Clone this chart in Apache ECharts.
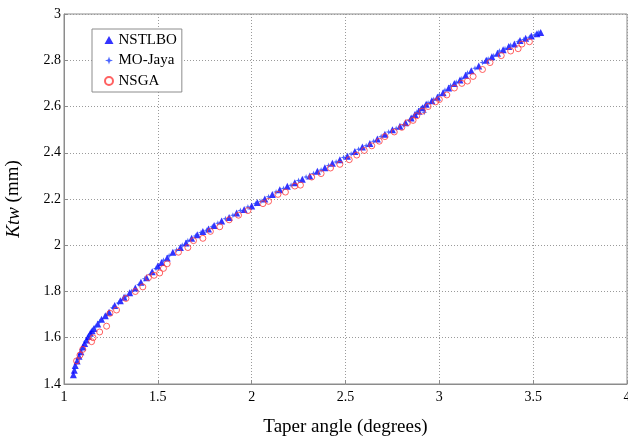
<!DOCTYPE html>
<html>
<head>
<meta charset="utf-8">
<script src="https://cdn.jsdelivr.net/npm/echarts@6/dist/echarts.min.js"></script>
<style>
html,body{margin:0;padding:0;background:#fff;}
#chart{width:628px;height:440px;}
</style>
</head>
<body>
<div id="chart"></div>
<script>
// Data
var xTicks = [1, 1.5, 2, 2.5, 3, 3.5, 4];
var yTicks = [1.4, 1.6, 1.8, 2, 2.2, 2.4, 2.6, 2.8, 3];
var seriesNames = ['NSTLBO', 'MO-Jaya', 'NSGA'];

var nstlbo = [[1.05,1.44],[1.055,1.46],[1.06,1.48],[1.07,1.50],[1.08,1.52],[1.09,1.54],[1.10,1.56],[1.11,1.575],[1.12,1.59],[1.13,1.605],[1.14,1.62],[1.15,1.63],[1.16,1.64],[1.18,1.66],[1.20,1.68],[1.22,1.695],[1.24,1.71],[1.27,1.74],[1.30,1.76],[1.32,1.775],[1.35,1.795],[1.38,1.815],[1.41,1.84],[1.44,1.86],[1.47,1.885],[1.50,1.91],[1.52,1.925],[1.55,1.945],[1.58,1.97],[1.62,1.99],[1.65,2.01],[1.68,2.03],[1.71,2.045],[1.74,2.06],[1.77,2.07],[1.80,2.085],[1.84,2.105],[1.88,2.12],[1.92,2.14],[1.96,2.155],[2.00,2.17],[2.03,2.185],[2.07,2.20],[2.11,2.22],[2.15,2.24],[2.19,2.255],[2.23,2.27],[2.27,2.285],[2.31,2.30],[2.35,2.32],[2.39,2.335],[2.43,2.355],[2.47,2.37],[2.51,2.385],[2.55,2.405],[2.59,2.425],[2.63,2.44],[2.67,2.46],[2.71,2.48],[2.75,2.50],[2.79,2.515],[2.82,2.53],[2.85,2.55],[2.87,2.565],[2.89,2.58],[2.91,2.595],[2.93,2.61],[2.96,2.625],[2.99,2.64],[3.02,2.66],[3.05,2.68],[3.08,2.70],[3.11,2.715],[3.14,2.735],[3.17,2.755],[3.21,2.775],[3.25,2.80],[3.28,2.815],[3.31,2.83],[3.34,2.845],[3.37,2.86],[3.40,2.87],[3.43,2.885],[3.46,2.895],[3.49,2.905],[3.52,2.915],[3.54,2.92]];

var moJaya = [[1.06,1.47],[1.075,1.51],[1.095,1.55],[1.115,1.585],[1.135,1.61],[1.155,1.635],[1.17,1.65],[1.19,1.67],[1.23,1.70],[1.26,1.73],[1.29,1.75],[1.33,1.78],[1.36,1.80],[1.40,1.83],[1.43,1.855],[1.46,1.875],[1.49,1.90],[1.53,1.935],[1.56,1.955],[1.60,1.98],[1.63,2.00],[1.66,2.02],[1.70,2.04],[1.73,2.055],[1.76,2.065],[1.79,2.08],[1.82,2.095],[1.86,2.115],[1.90,2.13],[1.94,2.15],[1.98,2.165],[2.02,2.18],[2.05,2.19],[2.09,2.21],[2.13,2.23],[2.17,2.245],[2.21,2.26],[2.25,2.28],[2.29,2.295],[2.33,2.31],[2.37,2.325],[2.41,2.345],[2.45,2.36],[2.49,2.38],[2.53,2.395],[2.57,2.415],[2.61,2.43],[2.65,2.45],[2.69,2.47],[2.73,2.49],[2.77,2.505],[2.81,2.52],[2.84,2.54],[2.86,2.555],[2.88,2.575],[2.90,2.59],[2.92,2.575],[2.92,2.60],[2.94,2.615],[2.97,2.63],[3.00,2.65],[3.03,2.67],[3.06,2.69],[3.09,2.705],[3.12,2.72],[3.15,2.745],[3.19,2.765],[3.23,2.79],[3.26,2.805],[3.29,2.82],[3.32,2.84],[3.35,2.85],[3.38,2.865],[3.42,2.88],[3.45,2.89],[3.48,2.90],[3.51,2.91],[3.53,2.92]];

var nsga = [[1.067,1.50],[1.085,1.525],[1.10,1.55],[1.147,1.583],[1.155,1.60],[1.19,1.625],[1.227,1.65],[1.245,1.706],[1.28,1.72],[1.33,1.77],[1.38,1.80],[1.42,1.82],[1.45,1.86],[1.48,1.87],[1.51,1.88],[1.53,1.90],[1.55,1.92],[1.61,1.97],[1.66,1.99],[1.69,2.02],[1.74,2.03],[1.78,2.06],[1.83,2.08],[1.88,2.11],[1.93,2.13],[1.98,2.15],[2.06,2.18],[2.09,2.19],[2.14,2.22],[2.18,2.23],[2.23,2.256],[2.26,2.26],[2.32,2.295],[2.37,2.31],[2.42,2.334],[2.47,2.35],[2.52,2.37],[2.56,2.39],[2.60,2.41],[2.64,2.43],[2.68,2.45],[2.71,2.47],[2.76,2.49],[2.80,2.51],[2.83,2.53],[2.86,2.54],[2.88,2.56],[2.91,2.58],[2.94,2.60],[2.98,2.62],[3.00,2.63],[3.04,2.65],[3.08,2.68],[3.12,2.70],[3.15,2.71],[3.18,2.73],[3.23,2.76],[3.27,2.79],[3.33,2.82],[3.38,2.84],[3.42,2.85],[3.44,2.87],[3.48,2.88]];

var starPath = 'path://M0,-10 L2.5,-2.5 L10,0 L2.5,2.5 L0,10 L-2.5,2.5 L-10,0 L-2.5,-2.5 Z';
var serif = 'Liberation Serif';

var chart = echarts.init(document.getElementById('chart'), null, {renderer: 'canvas'});
var option = {
  animation: false,
  backgroundColor: '#ffffff',
  grid: {left: 64, right: 1, top: 14, bottom: 56, outerBoundsMode: 'none', containLabel: false,
    show: true, borderColor: '#8c8c8c', borderWidth: 1, backgroundColor: '#ffffff'},
  legend: {
    orient: 'vertical',
    left: 92, top: 29,
    padding: [3, 5, 3, 12],
    itemGap: 4.5,
    itemWidth: 9, itemHeight: 8,
    borderColor: '#8c8c8c', borderWidth: 1, backgroundColor: '#ffffff',
    textStyle: {fontFamily: serif, fontSize: 15, color: '#000', lineHeight: 16},
    data: [
      {name: seriesNames[0], icon: 'triangle'},
      {name: seriesNames[1], icon: starPath},
      {name: seriesNames[2], icon: 'circle'}
    ]
  },
  xAxis: {
    type: 'value', min: xTicks[0], max: xTicks[xTicks.length - 1], interval: 0.5,
    name: 'Taper angle (degrees)', nameLocation: 'middle', nameGap: 34,
    nameTextStyle: {fontFamily: serif, fontSize: 19, color: '#000'},
    axisLine: {show: true, lineStyle: {color: '#8c8c8c', width: 1}},
    axisTick: {show: true, inside: true, length: 4, lineStyle: {color: '#8c8c8c'}},
    axisLabel: {fontFamily: serif, fontSize: 14, color: '#000', margin: 6},
    splitLine: {show: true, lineStyle: {color: '#9a9a9a', width: 1, type: [1, 2]}}
  },
  yAxis: {
    type: 'value', min: yTicks[0], max: yTicks[yTicks.length - 1], interval: 0.2,
    name: '{i|Ktw} (mm)', nameLocation: 'middle', nameGap: 41, nameRotate: 90,
    nameTextStyle: {fontFamily: serif, fontSize: 19, color: '#000',
      rich: {i: {fontFamily: serif, fontSize: 19, fontStyle: 'italic', color: '#000'}}},
    axisLine: {show: true, lineStyle: {color: '#8c8c8c', width: 1}},
    axisTick: {show: true, inside: true, length: 4, lineStyle: {color: '#8c8c8c'}},
    axisLabel: {fontFamily: serif, fontSize: 14, color: '#000', margin: 3,
      formatter: function (v) { return String(Math.round(v * 10) / 10); }},
    splitLine: {show: true, lineStyle: {color: '#9a9a9a', width: 1, type: [1, 2]}}
  },
  series: [
    {name: seriesNames[0], type: 'scatter', data: nstlbo, symbol: 'triangle', symbolSize: 7,
      itemStyle: {color: '#0000ff'}},
    {name: seriesNames[1], type: 'scatter', data: moJaya, symbol: starPath, symbolSize: 6,
      itemStyle: {color: '#2040ff'}},
    {name: seriesNames[2], type: 'scatter', data: nsga, symbol: 'circle', symbolSize: 6,
      itemStyle: {color: 'rgba(255,255,255,0)', borderColor: '#ff3a3a', borderWidth: 1}}
  ]
};
chart.setOption(option);
</script>
</body>
</html>
